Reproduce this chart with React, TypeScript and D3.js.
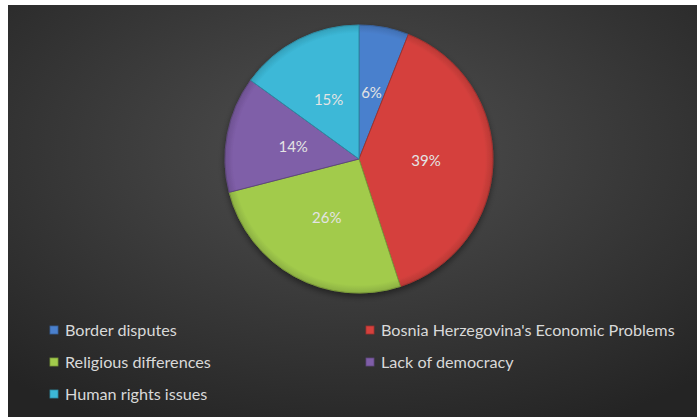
import { useEffect, useRef } from 'react';
import * as d3 from 'd3';

const categories = [
  'Border disputes',
  "Bosnia Herzegovina's Economic Problems",
  'Religious differences',
  'Lack of democracy',
  'Human rights issues',
];
const values = [6, 39, 26, 14, 15];
const colors = ['#4a80cd', '#d5413d', '#a2cb4c', '#7f5ea8', '#3cb8d7'];

export default function App() {
  const svgRef = useRef<SVGSVGElement>(null);

  useEffect(() => {
    const width = 700;
    const height = 417;
    const cx = 359;
    const cy = 159;
    const r = 134;

    const svg = d3.select(svgRef.current)
      .attr('width', width)
      .attr('height', height);
    svg.selectAll('*').remove();

    const defs = svg.append('defs');
    const bg = defs.append('radialGradient')
      .attr('id', 'bg')
      .attr('cx', '50%').attr('cy', '35%').attr('r', '75%');
    bg.append('stop').attr('offset', '0%').attr('stop-color', '#505050');
    bg.append('stop').attr('offset', '100%').attr('stop-color', '#242424');

    const shadow = defs.append('filter').attr('id', 'shadow')
      .attr('x', '-20%').attr('y', '-20%').attr('width', '140%').attr('height', '140%');
    shadow.append('feDropShadow')
      .attr('dx', 0).attr('dy', 3).attr('stdDeviation', 3)
      .attr('flood-color', '#000').attr('flood-opacity', 0.45);

    // slice bevel shading
    colors.forEach((c, i) => {
      const g = defs.append('radialGradient')
        .attr('id', `sl${i}`)
        .attr('gradientUnits', 'userSpaceOnUse')
        .attr('cx', 0).attr('cy', 0).attr('r', r);
      g.append('stop').attr('offset', '0%').attr('stop-color', c);
      g.append('stop').attr('offset', '94%').attr('stop-color', c);
      g.append('stop').attr('offset', '100%').attr('stop-color', d3.color(c)!.darker(0.4).toString());
    });

    svg.append('rect')
      .attr('x', 8).attr('y', 5)
      .attr('width', 689).attr('height', height - 5)
      .attr('fill', 'url(#bg)');

    const pie = d3.pie<number>().sort(null).value(d => d);
    const arcs = pie(values);
    const arc = d3.arc<d3.PieArcDatum<number>>().innerRadius(0).outerRadius(r);

    const chart = svg.append('g')
      .attr('transform', `translate(${cx},${cy})`);

    chart.append('g')
      .attr('filter', 'url(#shadow)')
      .selectAll('path')
      .data(arcs)
      .join('path')
      .attr('d', arc)
      .attr('fill', (d, i) => `url(#sl${i})`)
      .attr('stroke', (d, i) => d3.color(colors[i])!.darker(0.8).toString())
      .attr('stroke-width', 1)
      .attr('stroke-linejoin', 'round');

    chart.selectAll('text.lbl')
      .data(arcs)
      .join('text')
      .attr('class', 'lbl')
      .attr('x', d => arc.centroid(d)[0])
      .attr('y', d => arc.centroid(d)[1])
      .attr('dy', '0.35em')
      .attr('text-anchor', 'middle')
      .attr('font-family', 'Lato, sans-serif')
      .attr('font-size', 15)
      .attr('fill', '#e4e4e4')
      .text(d => `${d.data}%`);

    const cols = [50, 366];
    const rows = [330, 362, 394];
    const legend = svg.append('g');
    const items = legend.selectAll('g')
      .data(categories)
      .join('g')
      .attr('transform', (d, i) => `translate(${cols[i % 2]},${rows[Math.floor(i / 2)]})`);
    items.append('rect')
      .attr('x', 0).attr('y', -4)
      .attr('width', 8).attr('height', 8)
      .attr('fill', (d, i) => colors[i])
      .attr('stroke', (d, i) => d3.color(colors[i])!.darker(0.8).toString())
      .attr('stroke-width', 0.8);
    items.append('text')
      .attr('x', 15)
      .attr('dy', '0.35em')
      .attr('font-family', 'Lato, sans-serif')
      .attr('font-size', 16.2)
      .attr('fill', '#d9d9d9')
      .text(d => d);
  }, []);

  return (
    <div style={{ position: 'absolute', left: 0, top: 0, width: 700, height: 417, background: '#fff' }}>
      <svg ref={svgRef} style={{ display: 'block' }}></svg>
    </div>
  );
}
